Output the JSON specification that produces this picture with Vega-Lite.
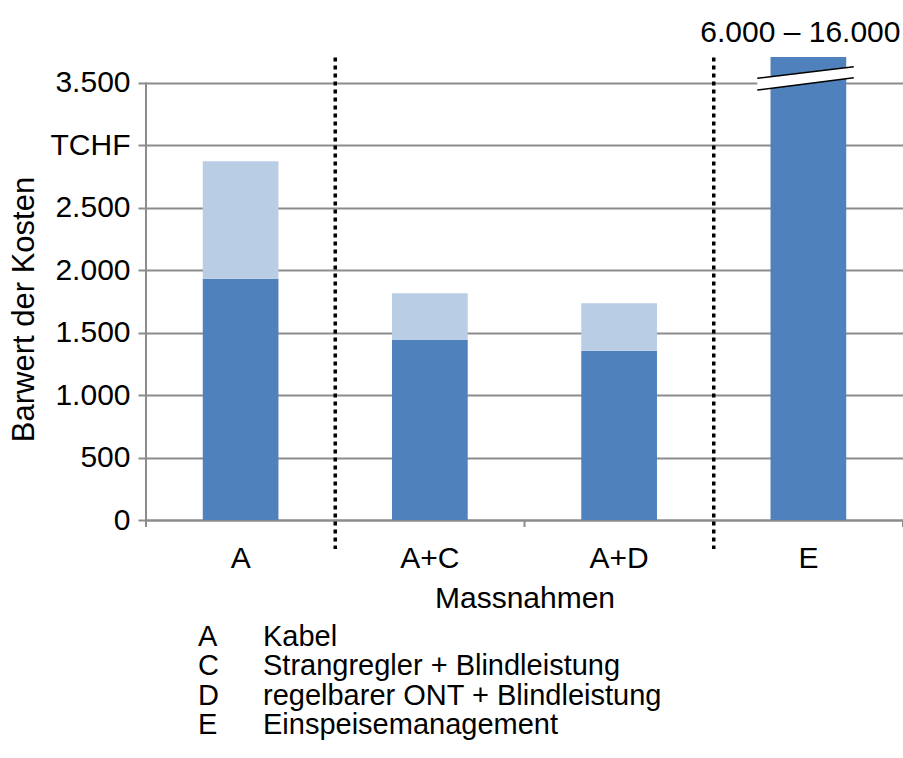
{
  "$schema": "https://vega.github.io/schema/vega-lite/v6.json",
  "padding": {"left": 8, "top": 18, "right": 0, "bottom": 0},
  "background": "white",
  "config": {
    "font": "Liberation Sans",
    "view": {"stroke": null},
    "text": {"font": "Liberation Sans", "fontSize": 30, "color": "#000000"}
  },
  "datasets": {
    "kosten": [
      {"Massnahme": "A", "Teil": "Basis", "Barwert": 1930},
      {"Massnahme": "A", "Teil": "Zusatz", "Barwert": 940},
      {"Massnahme": "A+C", "Teil": "Basis", "Barwert": 1440},
      {"Massnahme": "A+C", "Teil": "Zusatz", "Barwert": 375},
      {"Massnahme": "A+D", "Teil": "Basis", "Barwert": 1355},
      {"Massnahme": "A+D", "Teil": "Zusatz", "Barwert": 380},
      {"Massnahme": "E", "Teil": "Basis", "Barwert": 6000, "bis": 16000}
    ],
    "trennlinien": [{"Grenze": 1}, {"Grenze": 3}],
    "teilstriche": [{"Grenze": 0}, {"Grenze": 2}, {"Grenze": 4}],
    "achsenbruch": [
      {"Position": 3.23, "unten": 3440, "oben": 3534},
      {"Position": 3.74, "unten": 3538, "oben": 3626}
    ],
    "legende": [
      {"Kürzel": "A", "Bezeichnung": "Kabel"},
      {"Kürzel": "C", "Bezeichnung": "Strangregler + Blindleistung"},
      {"Kürzel": "D", "Bezeichnung": "regelbarer ONT + Blindleistung"},
      {"Kürzel": "E", "Bezeichnung": "Einspeisemanagement"}
    ]
  },
  "bounds": "flush",
  "spacing": 102,
  "vconcat": [
    {
      "width": 757,
      "height": 463,
      "resolve": {"scale": {"x": "independent"}},
      "layer": [
        {
          "data": {"name": "kosten"},
          "layer": [
            {
              "mark": {"type": "bar", "clip": true},
              "encoding": {
                "x": {
                  "field": "Massnahme", "type": "nominal",
                  "sort": ["A", "A+C", "A+D", "E"],
                  "scale": {"paddingInner": 0.6, "paddingOuter": 0.3},
                  "axis": {
                    "title": "Massnahmen", "labelAngle": 0, "ticks": false,
                    "domain": true, "domainColor": "#8c8c8c", "domainWidth": 2,
                    "labelFontSize": 30, "labelColor": "#000000", "labelPadding": 23,
                    "titleFontSize": 30, "titleFontWeight": "normal", "titleColor": "#000000",
                    "titlePadding": 10, "grid": false
                  }
                },
                "y": {
                  "field": "Barwert", "type": "quantitative", "stack": "zero",
                  "scale": {"domain": [0, 3704], "nice": false},
                  "axis": {
                    "title": "Barwert der Kosten",
                    "values": [0, 500, 1000, 1500, 2000, 2500, 3000, 3500],
                    "labelExpr": "datum.value == 3000 ? 'TCHF' : replace(format(datum.value, ','), ',', '.')",
                    "grid": true, "gridColor": "#8c8c8c", "gridWidth": 2,
                    "domain": false, "tickSize": 8, "tickWidth": 2, "tickColor": "#8c8c8c",
                    "labelFontSize": 30, "labelColor": "#000000", "labelPadding": 8,
                    "titleFontSize": 31, "titleFontWeight": "normal", "titleColor": "#000000",
                    "titlePadding": 10, "titleY": 252
                  }
                },
                "color": {
                  "field": "Teil", "type": "nominal",
                  "scale": {"domain": ["Basis", "Zusatz"], "range": ["#4f81bd", "#b9cde5"]},
                  "legend": null
                },
                "order": {"field": "Teil", "sort": "ascending"}
              }
            },
            {
              "transform": [
                {"filter": "datum.Massnahme == 'E'"},
                {"calculate": "replace(format(datum.Barwert, ','), ',', '.') + ' – ' + replace(format(datum.bis, ','), ',', '.')", "as": "Spanne"}
              ],
              "mark": {"type": "text", "baseline": "middle", "align": "center", "dx": -8, "dy": -24, "fontSize": 30},
              "encoding": {
                "x": {"field": "Massnahme", "type": "nominal", "sort": ["A", "A+C", "A+D", "E"]},
                "y": {"datum": 3704},
                "text": {"field": "Spanne"}
              }
            }
          ]
        },
        {
          "layer": [
            {
              "data": {"name": "teilstriche"},
              "mark": {"type": "rule", "color": "#8c8c8c", "strokeWidth": 2},
              "encoding": {
                "x": {"field": "Grenze", "type": "quantitative", "scale": {"domain": [0, 4], "nice": false, "zero": false}, "axis": null},
                "y": {"datum": 0},
                "y2": {"datum": -56}
              }
            },
            {
              "data": {"values": [{"Grenze": 0}]},
              "mark": {"type": "rule", "color": "#8c8c8c", "strokeWidth": 2},
              "encoding": {
                "x": {"field": "Grenze", "type": "quantitative", "scale": {"domain": [0, 4], "nice": false, "zero": false}, "axis": null},
                "y": {"datum": 0},
                "y2": {"datum": 3500}
              }
            },
            {
              "data": {"name": "trennlinien"},
              "mark": {"type": "rule", "color": "#000000", "strokeWidth": 3.5, "strokeDash": [4, 4], "strokeCap": "butt"},
              "encoding": {
                "x": {"field": "Grenze", "type": "quantitative", "scale": {"domain": [0, 4], "nice": false, "zero": false}, "axis": null},
                "y": {"datum": 3700},
                "y2": {"datum": -232}
              }
            },
            {
              "data": {"name": "achsenbruch"},
              "mark": {"type": "area", "color": "#ffffff", "opacity": 1},
              "encoding": {
                "x": {"field": "Position", "type": "quantitative", "scale": {"domain": [0, 4], "nice": false, "zero": false}, "axis": null},
                "y": {"field": "unten", "type": "quantitative"},
                "y2": {"field": "oben"}
              }
            },
            {
              "data": {"name": "achsenbruch"},
              "mark": {"type": "line", "color": "#000000", "strokeWidth": 1.5},
              "encoding": {
                "x": {"field": "Position", "type": "quantitative", "scale": {"domain": [0, 4], "nice": false, "zero": false}, "axis": null},
                "y": {"field": "unten", "type": "quantitative"}
              }
            },
            {
              "data": {"name": "achsenbruch"},
              "mark": {"type": "line", "color": "#000000", "strokeWidth": 1.5},
              "encoding": {
                "x": {"field": "Position", "type": "quantitative", "scale": {"domain": [0, 4], "nice": false, "zero": false}, "axis": null},
                "y": {"field": "oben", "type": "quantitative"}
              }
            }
          ]
        }
      ]
    },
    {
      "width": 104,
      "height": 118,
      "data": {"name": "legende"},
      "encoding": {
        "y": {"field": "Kürzel", "type": "nominal", "sort": null, "axis": null}
      },
      "layer": [
        {
          "mark": {"type": "text", "align": "left", "baseline": "middle", "fontSize": 29},
          "encoding": {"text": {"field": "Kürzel"}}
        },
        {
          "mark": {"type": "text", "align": "left", "baseline": "middle", "fontSize": 29, "dx": 65},
          "encoding": {"text": {"field": "Bezeichnung"}}
        }
      ]
    }
  ]
}
